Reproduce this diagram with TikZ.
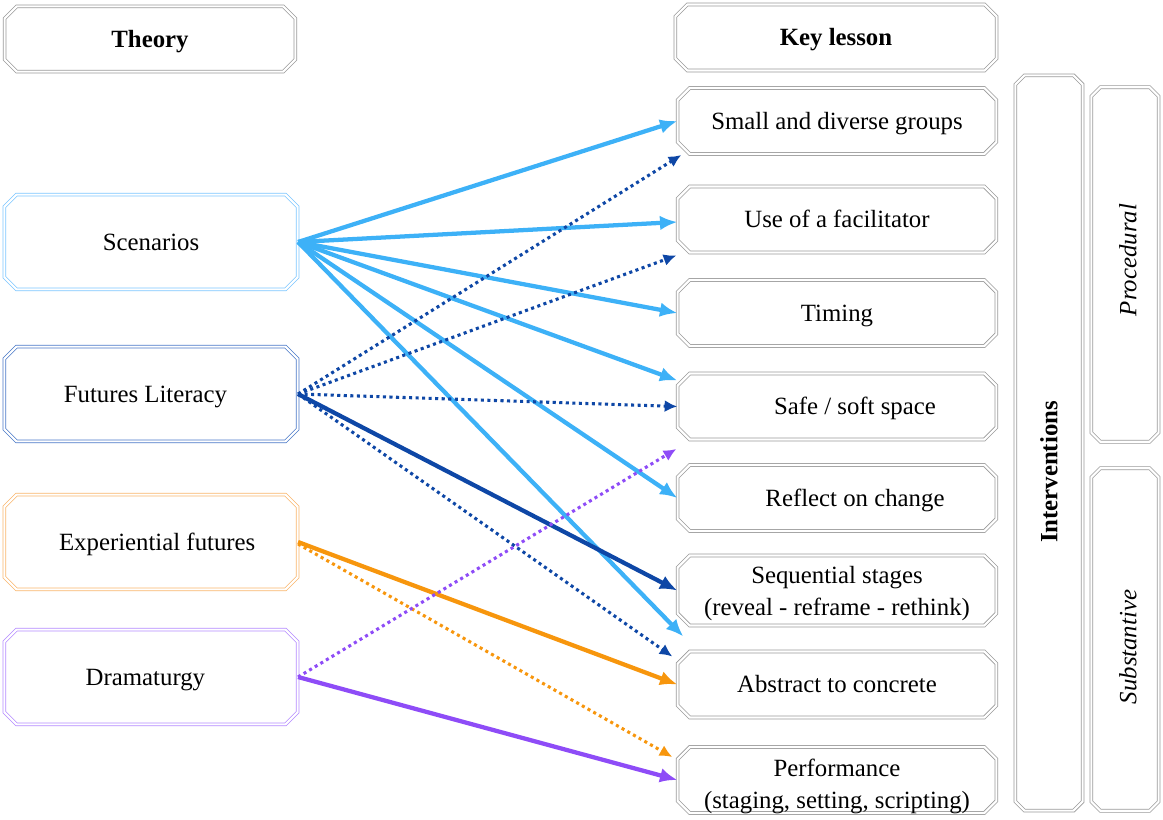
\documentclass[tikz,border=0pt]{standalone}
\usepackage{fontspec}
\setmainfont{Liberation Serif}
\usetikzlibrary{shapes.misc,arrows.meta,calc}

\definecolor{boxgray}{HTML}{9A9A9A}
\definecolor{scedge}{HTML}{7CC6FF}
\definecolor{fledge}{HTML}{4A78C8}
\definecolor{exedge}{HTML}{F9B66C}
\definecolor{dredge}{HTML}{B48AFF}
\definecolor{cscen}{HTML}{3DB1F7}
\definecolor{cfl}{HTML}{0E47A6}
\definecolor{cexp}{HTML}{F7960D}
\definecolor{cdram}{HTML}{8E4CF7}

\tikzset{
  edge2/.style={draw=#1, line width=0.55pt, double=white, double distance=1.6pt},
  frame/.style={chamfered rectangle, chamfered rectangle xsep=6pt, edge2=#1,
    align=center, inner sep=0pt, text height=12.3pt, text depth=0pt,
    font=\fontsize{18.6}{24}\selectfont},
  frame/.default=boxgray,
  twoline/.style 2 args={text height=#1, text depth=#2},
  leftbox/.style={frame=#1, minimum width=220pt, minimum height=71pt},
  lessonbox/.style={frame, minimum width=239pt, minimum height=49.5pt},
  column/.style={rectangle, inner sep=0pt, minimum width=50pt},
  sidetext/.style={rotate=90},
  solidarrow/.style={draw=#1, line width=3.2pt, -{Latex[length=13pt,width=11pt]}},
  dotarrow/.style={draw=#1, line width=2.3pt, dash pattern=on 2.3pt off 2.6pt,
    -{Latex[length=9.5pt,width=9pt]}}
}

% chamfered double outline around a plain rectangular node
\newcommand\chamfoutline[1]{%
  \draw[edge2=boxgray]
    ($(#1.north west)+(9,0)$) -- ($(#1.north east)+(-9,0)$) --
    ($(#1.north east)+(0,9)$) -- ($(#1.south east)+(0,-9)$) --
    ($(#1.south east)+(-9,0)$) -- ($(#1.south west)+(9,0)$) --
    ($(#1.south west)+(0,-9)$) -- ($(#1.north west)+(0,9)$) -- cycle;}

\begin{document}
\begin{tikzpicture}[x=0.75pt,y=-0.75pt]
\useasboundingbox (0,0) rectangle (1163,820);

% column headers
\node[frame, minimum width=218pt, minimum height=49pt] (theory) at (150,39) {\textbf{Theory}};
\node[frame, minimum width=241pt, minimum height=49.5pt] (key) at (836,37.5) {\textbf{Key lesson}};

% theories
\node[leftbox=scedge] (sc)   at (151,242) {Scenarios};
\node[leftbox=fledge] (fl)   at (151,394) {\hspace*{-0.45em}Futures Literacy};
\node[leftbox=exedge] (exp)  at (151,542) {\hspace*{0.5em}Experiential futures};
\node[leftbox=dredge] (dram) at (151,677) {\hspace*{-0.45em}Dramaturgy};

% key lessons
\node[lessonbox] (sm)   at (837,121)   {Small and diverse groups};
\node[lessonbox] (fac)  at (837,219.5) {Use of a facilitator};
\node[lessonbox] (tim)  at (837,313)   {Timing};
\node[lessonbox] (safe) at (837,406.5) {\hspace*{1.45em}Safe / soft space};
\node[lessonbox] (refl) at (837,498)   {\hspace*{1.45em}Reflect on change};
\node[lessonbox, twoline={42.3pt}{4.1pt}] (seq)  at (837,590.5) {Sequential stages\\(reveal - reframe - rethink)};
\node[lessonbox] (abs)  at (837,684.5) {Abstract to concrete};
\node[lessonbox, twoline={42pt}{0pt}] (perf) at (837,780)   {Performance\\(staging, setting, scripting)};

% intervention columns
\node[column, minimum height=551pt]   (intv) at (1049,443) {};
\node[column, minimum height=265.5pt] (proc) at (1125,264.5) {};
\node[column, minimum height=256.5pt] (subs) at (1125,639.5) {};
\chamfoutline{intv}
\chamfoutline{proc}
\chamfoutline{subs}
\node[sidetext, font=\fontsize{18.6}{24}\selectfont\bfseries] (intvt) at (1049,472) {Interventions};
\node[sidetext, font=\fontsize{18.6}{24}\selectfont\itshape] (proct) at (1128,260) {Procedural};
\node[sidetext, font=\fontsize{18.6}{24}\selectfont\itshape] (subst) at (1128,647) {Substantive};

% Scenarios
\draw[solidarrow=cscen] (sc.east) -- (sm.west);
\draw[solidarrow=cscen] (sc.east) -- ($(fac.west)+(0,2.5)$);
\draw[solidarrow=cscen] (sc.east) -- (tim.west);
\draw[solidarrow=cscen] (sc.east) -- ($(safe.west)+(0,-26)$);
\draw[solidarrow=cscen] (sc.east) -- (refl.west);
\draw[solidarrow=cscen] (sc.east) -- ($(abs.west)+(6,-48)$);

% Futures Literacy
\draw[dotarrow=cfl] (fl.east) -- ($(sm.west)+(4,34)$);
\draw[dotarrow=cfl] (fl.east) -- ($(fac.west)+(-1,36)$);
\draw[dotarrow=cfl] (fl.east) -- (safe.west);
\draw[solidarrow=cfl] (fl.east) -- (seq.west);
\draw[dotarrow=cfl] (fl.east) -- ($(abs.west)+(-5,-28)$);

% Experiential futures
\draw[solidarrow=cexp] (exp.east) -- (abs.west);
\draw[dotarrow=cexp] ($(exp.east)+(0,2)$) -- ($(perf.west)+(-5,-23)$);

% Dramaturgy
\draw[dotarrow=cdram] (dram.east) -- ($(refl.west)+(-1,-49)$);
\draw[solidarrow=cdram] (dram.east) -- (perf.west);
\end{tikzpicture}
\end{document}
